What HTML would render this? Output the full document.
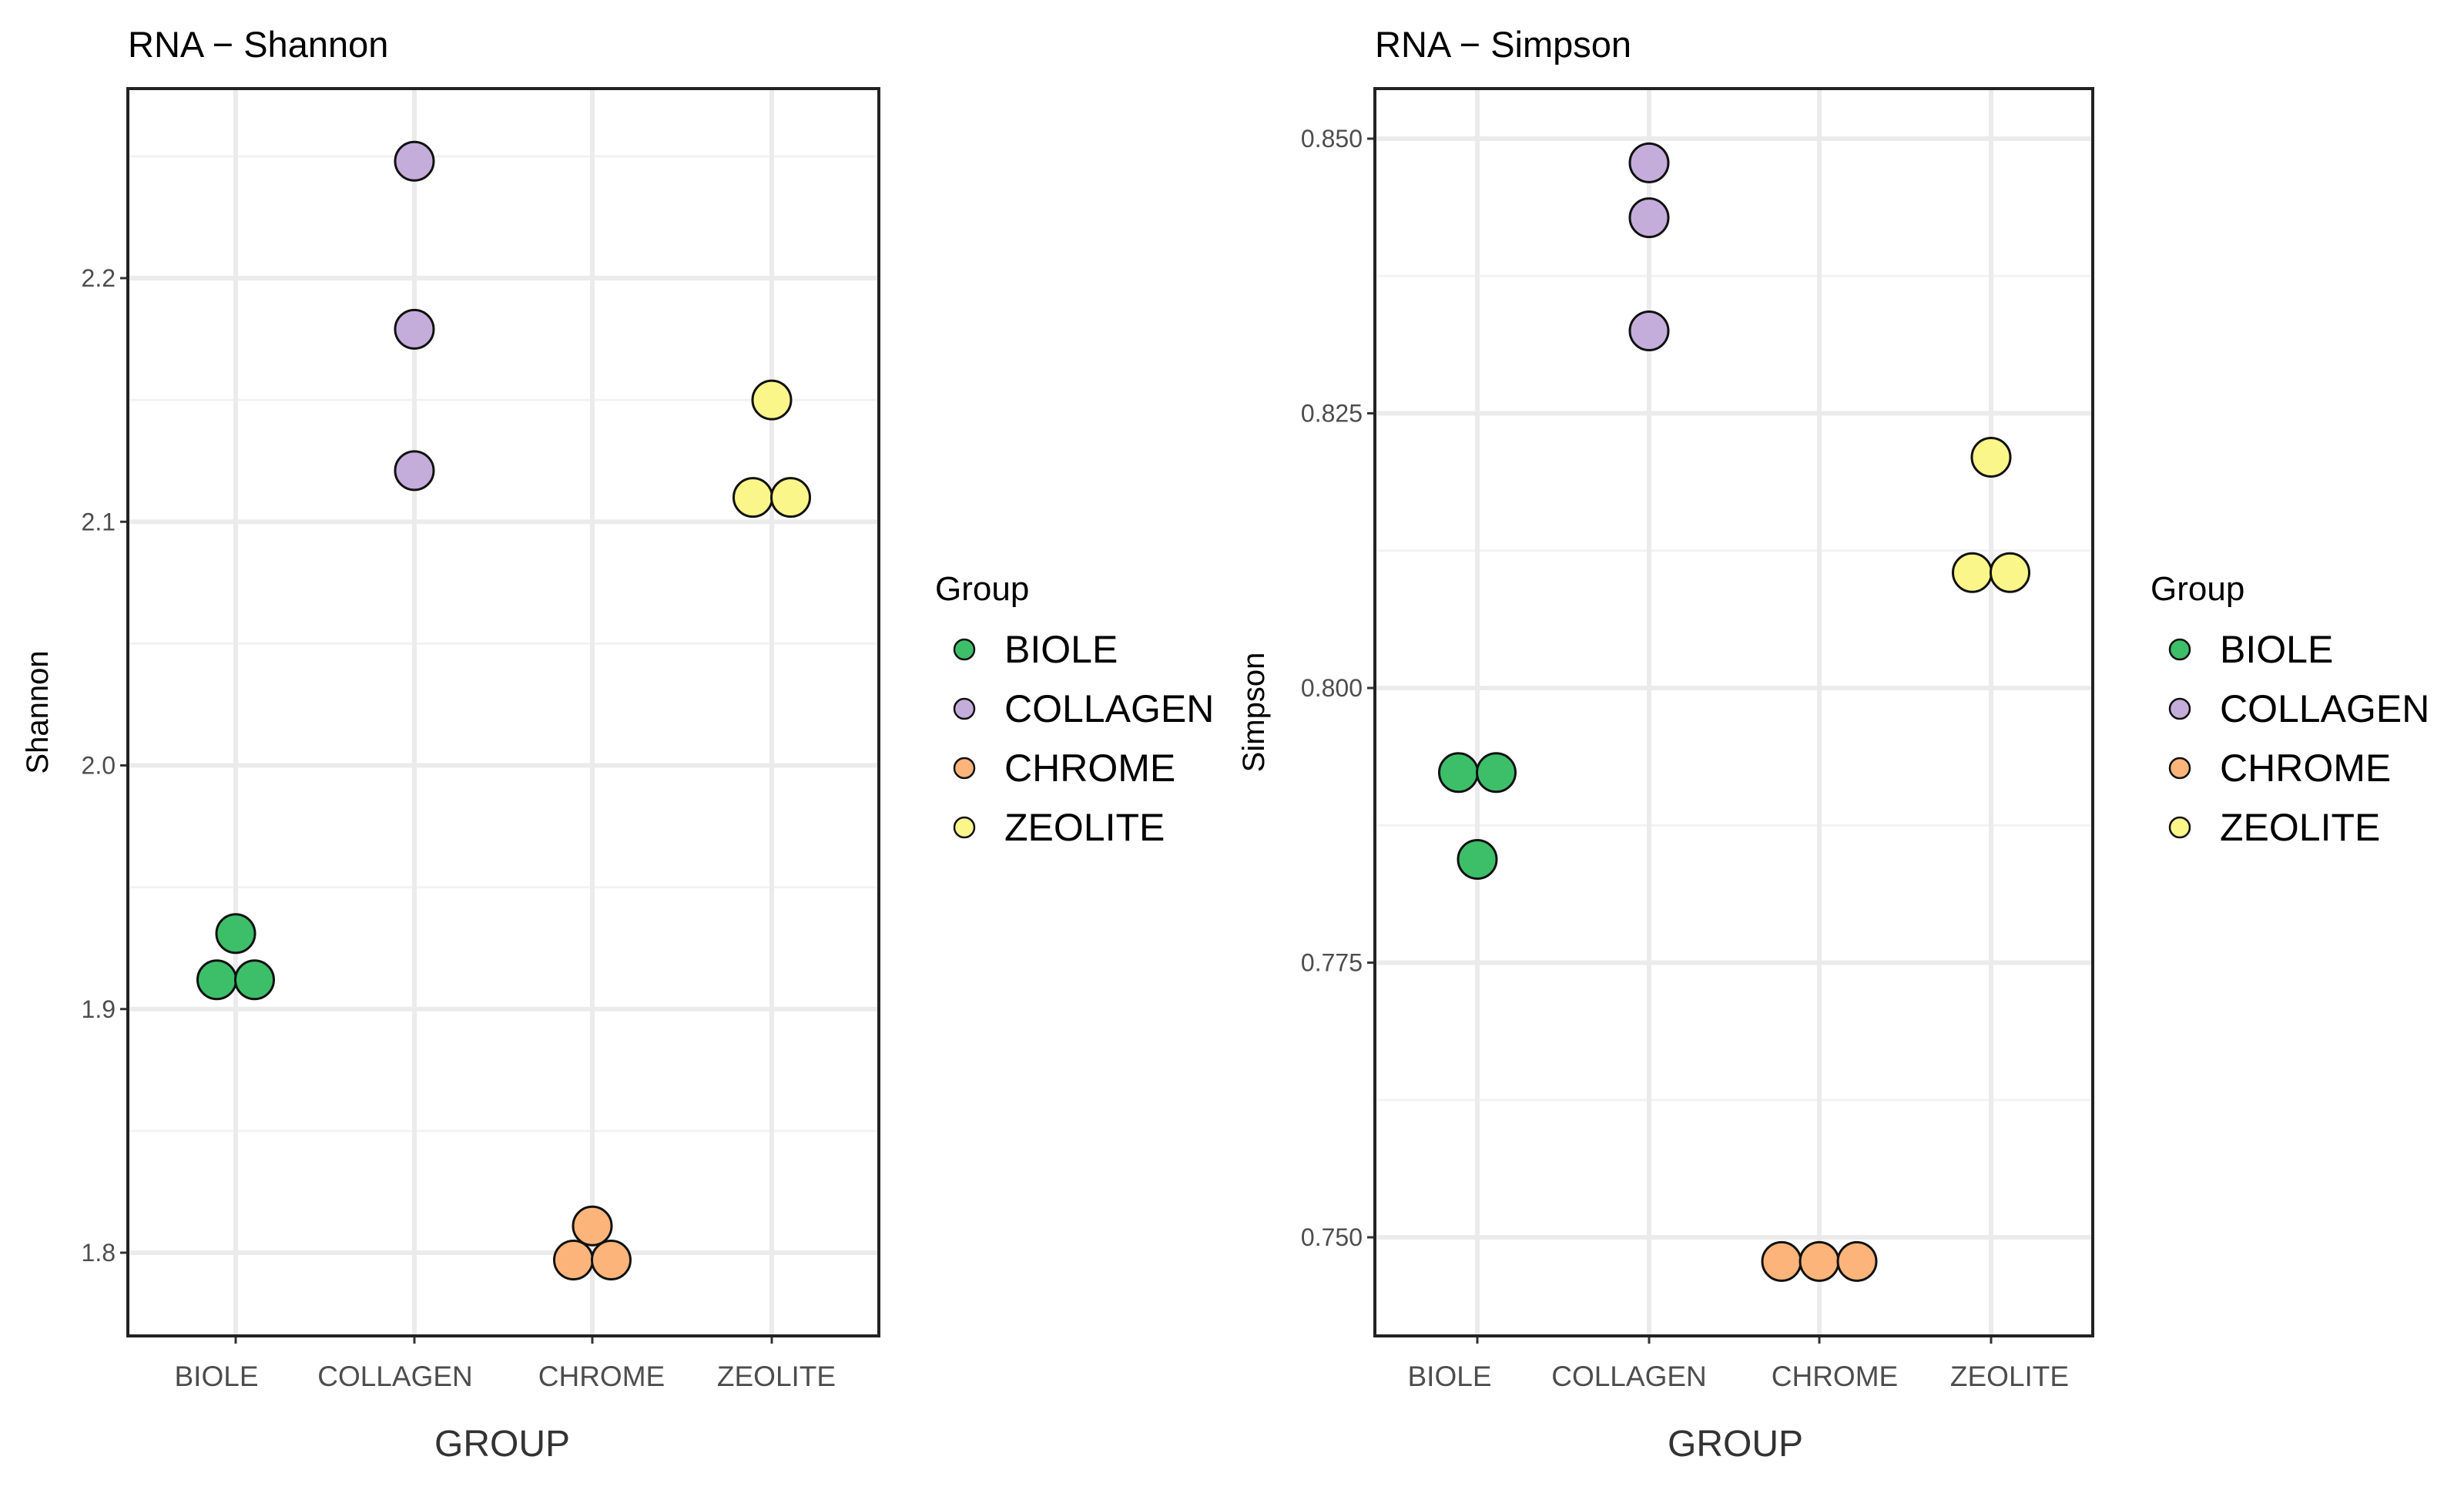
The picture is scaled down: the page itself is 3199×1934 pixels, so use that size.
<!DOCTYPE html>
<html><head><meta charset="utf-8"><style>
html,body{margin:0;padding:0;background:#fff;}
svg{display:block;font-family:"Liberation Sans","DejaVu Sans",sans-serif;}
</style></head><body>
<svg id="chart" width="3199" height="1934" viewBox="0 0 3199 1934" xmlns="http://www.w3.org/2000/svg"></svg>
<script>
const categories = ["BIOLE","COLLAGEN","CHROME","ZEOLITE"];
const groupColors = ["#3dbf6a","#c4addb","#fcb47a","#fbf68a"];
// Shannon values (category index, value, jitter slot)
const shannonCat = [0,0,0,1,1,1,2,2,2,3,3,3];
const shannonVal = [1.931,1.912,1.912,2.248,2.179,2.121,1.811,1.797,1.797,2.150,2.110,2.110];
const shannonSlot = [0,-1,1,0,0,0,0,-1,1,0,-1,1];
const shannonTicks = [1.8,1.9,2.0,2.1,2.2];
const shannonTickLabels = ["1.8","1.9","2.0","2.1","2.2"];
// Simpson values
const simpsonCat = [0,0,0,1,1,1,2,2,2,3,3,3];
const simpsonVal = [0.7923,0.7923,0.7844,0.8478,0.8428,0.8325,0.7478,0.7478,0.7478,0.8210,0.8105,0.8105];
const simpsonSlot = [-1,1,0,0,0,0,-2,0,2,0,-1,1];
const simpsonTicks = [0.750,0.775,0.800,0.825,0.850];
const simpsonTickLabels = ["0.750","0.775","0.800","0.825","0.850"];

const NS="http://www.w3.org/2000/svg";
const svg=document.getElementById('chart');
function el(tag,attrs,parent,text){const e=document.createElementNS(NS,tag);for(const k in attrs)e.setAttribute(k,attrs[k]);if(text!==undefined)e.textContent=text;(parent||svg).appendChild(e);return e;}

function panel(cfg){
  const g=el('g',{});
  
  
  const {x0,x1,y0,y1}=cfg;
  const yScale=v=>cfg.py0+(v-cfg.v0)*(cfg.py1-cfg.py0)/(cfg.v1-cfg.v0);
  const xScale=i=>cfg.cx[i];
  const step=cfg.ticks[1]-cfg.ticks[0];
  for(let k=-2;k<cfg.ticks.length+1;k++){
    const m=cfg.ticks[0]+(k+0.5)*step;
    const yy=yScale(m); if(yy>y0&&yy<y1){
      const l=el('line',{x1:x0,x2:x1,y1:yy,y2:yy,stroke:'#f2f2f2','stroke-width':3},g);
      
      
    }
  }
  cfg.ticks.forEach((t,i)=>{
    const y=yScale(t);
    const l=el('line',{x1:x0,x2:x1,y1:y,y2:y,stroke:'#ebebeb','stroke-width':6},g);
    
    
    const tk=el('line',{x1:x0-10,x2:x0,y1:y,y2:y,stroke:'#333','stroke-width':3},g);
    
    
    const tx=el('text',{x:x0-16,y:y+11,'text-anchor':'end','font-size':32,fill:'#4d4d4d'},g,cfg.tickLabels[i]);
    
    
  });
  categories.forEach((c,i)=>{
    const x=xScale(i);
    const l=el('line',{x1:x,x2:x,y1:y0,y2:y1,stroke:'#ebebeb','stroke-width':6},g);
    
    
    const tk=el('line',{x1:x,x2:x,y1:y1,y2:y1+10,stroke:'#333','stroke-width':3},g);
    
    
    const tx=el('text',{x:x+cfg.labOff[i],y:y1+65,'text-anchor':'middle','font-size':37,fill:'#4d4d4d'},g,c);
    
    
  });
  const r=25, dx=24.5;
  cfg.cat.forEach((c,i)=>{
    const cc=el('circle',{cx:xScale(c)+cfg.slot[i]*dx,cy:yScale(cfg.val[i]),r:r,fill:groupColors[c],stroke:'#111','stroke-width':3},g);
    
    
  });
  const box=el('rect',{x:x0,y:y0,width:x1-x0,height:y1-y0,fill:'none',stroke:'#222','stroke-width':4},g);
  
  
  const title=el('text',{x:x0,y:74,'font-size':47,fill:'#000'},g,cfg.title);
  
  
  const xt=el('text',{x:cfg.xTitleX,y:1890,'text-anchor':'middle','font-size':48,fill:'#333'},g,'GROUP');
  
  
  const yt=el('text',{x:0,y:0,'text-anchor':'middle','font-size':40,fill:'#000',transform:`translate(${cfg.yTitleX},${(y0+y1)/2}) rotate(-90)`},g,cfg.yTitle);
  
  
  const lg=el('g',{},g);
  
  
  const lt=el('text',{x:cfg.legX,y:779,'font-size':44,fill:'#000'},lg,'Group');
  
  
  categories.forEach((c,i)=>{
    const y=843+i*77;
    const ci=el('circle',{cx:cfg.legX+38,cy:y,r:13,fill:groupColors[i],stroke:'#111','stroke-width':2.5},lg);
    
    
    const t=el('text',{x:cfg.legX+90,y:y+17,'font-size':50,fill:'#000'},lg,c);
    
    
  });
}
panel({name:'shannon',title:'RNA − Shannon',yTitle:'Shannon',x0:166,x1:1141,y0:115,y1:1734,
  cx:[306,538,769,1002],labOff:[-25,-25,12,6],v0:1.8,v1:2.2,py0:1626,py1:361,
  ticks:shannonTicks,tickLabels:shannonTickLabels,cat:shannonCat,val:shannonVal,slot:shannonSlot,
  xTitleX:652,yTitleX:62,legX:1214});
panel({name:'simpson',title:'RNA − Simpson',yTitle:'Simpson',x0:1785,x1:2717,y0:115,y1:1734,
  cx:[1918,2141,2362,2585],labOff:[-36,-26,20,24],v0:0.75,v1:0.85,py0:1606,py1:180,
  ticks:simpsonTicks,tickLabels:simpsonTickLabels,cat:simpsonCat,val:simpsonVal,slot:simpsonSlot,
  xTitleX:2253,yTitleX:1641,legX:2792});
</script>
</body></html>
